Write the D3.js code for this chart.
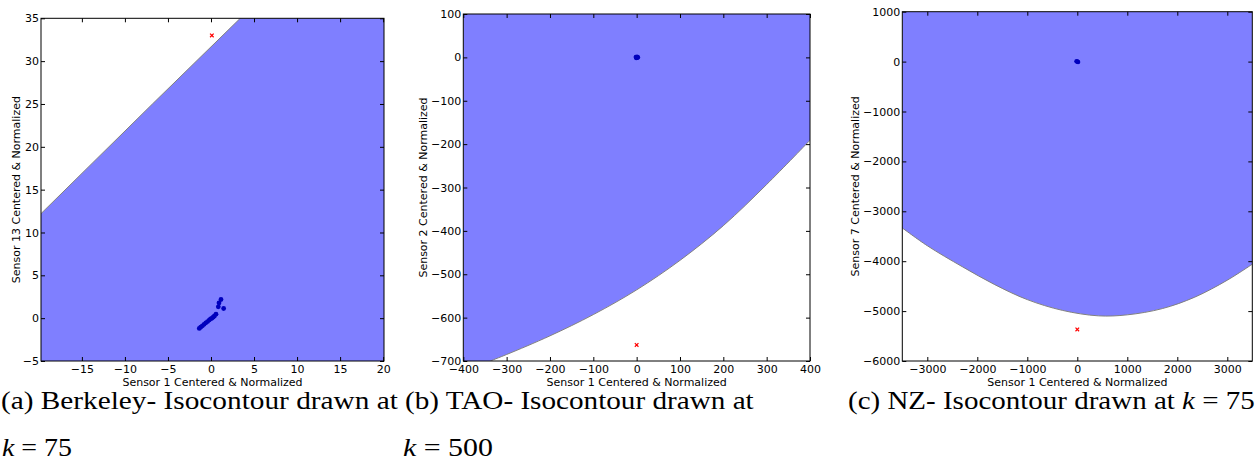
<!DOCTYPE html>
<html>
<head>
<meta charset="utf-8">
<script src="https://cdn.jsdelivr.net/npm/d3@7"></script>
<style>
  html, body { margin: 0; padding: 0; background: #fff; }
  svg { display: block; }
</style>
</head>
<body>
<svg id="chart" width="1257" height="461"></svg>
<script>
// ---------------- DATA ----------------
// Panel (a) Berkeley
const aXDomain = [-19.75, 20.1];
const aYDomain = [-5, 35];
const aXTicks = [-15, -10, -5, 0, 5, 10, 15, 20];
const aYTicks = [-5, 0, 5, 10, 15, 20, 25, 30, 35];
const aBoundary = [[-19.75, 12.2], [-6.8, 25.0], [3.4, 35]];
const aPoints = [[-1.36, -1.2], [-1.2, -1.05], [-1.0, -0.9], [-0.8, -0.72], [-0.6, -0.55],
                 [-0.4, -0.4], [-0.2, -0.22], [-0.05, -0.08], [0.1, -0.02], [0.25, 0.12],
                 [0.4, 0.25], [0.58, 0.47], [0.85, 1.32], [0.93, 1.78], [1.16, 2.18], [1.47, 1.13]];
const aOutlier = [[0.1, 33.0]];

// Panel (b) TAO
const bXDomain = [-400, 400];
const bYDomain = [-700, 100];
const bXTicks = [-400, -300, -200, -100, 0, 100, 200, 300, 400];
const bYTicks = [-700, -600, -500, -400, -300, -200, -100, 0, 100];
const bBoundary = [[-338, -700], [-300, -685], [-200, -642], [-100, -593], [0, -536],
                   [100, -468], [200, -388], [300, -293], [400, -191]];
const bPoints = [[0, 0], [-2, 1], [2, -1], [1, 1.5], [-1, -1.5], [3, 0.5]];
const bOutlier = [[0, -663]];

// Panel (c) NZ
const cXDomain = [-3500, 3500];
const cYDomain = [-6000, 1000];
const cXTicks = [-3000, -2000, -1000, 0, 1000, 2000, 3000];
const cYTicks = [-6000, -5000, -4000, -3000, -2000, -1000, 0, 1000];
const cBoundary = [[-3500, -3333], [-3000, -3690], [-2300, -4110], [-1650, -4470], [-1000, -4770],
                   [-300, -4985], [420, -5095], [1000, -5075], [1700, -4950], [2350, -4720],
                   [3000, -4380], [3500, -4060]];
const cPoints = [[0, 0], [15, -8], [-15, 8]];
const cOutlier = [[0, -5367]];

// Labels
const xLabels = ["Sensor 1 Centered & Normalized", "Sensor 1 Centered & Normalized", "Sensor 1 Centered & Normalized"];
const yLabels = ["Sensor 13 Centered & Normalized", "Sensor 2 Centered & Normalized", "Sensor 7 Centered & Normalized"];
const captionLines = [
  [["(a) Berkeley- Isocontour drawn at", false]],
  [["k", true], [" = 75", false]],
  [["(b) TAO- Isocontour drawn at", false]],
  [["k", true], [" = 500", false]],
  [["(c) NZ- Isocontour drawn at ", false], ["k", true], [" = 75", false]]
];

// ---------------- LAYOUT ----------------
const svg = d3.select("#chart");
const EDGE = "#808080";
const DOT = "#00007a";
const TICKFONT = "DejaVu Sans, sans-serif";

const panels = [
  { left: 41, top: 18.3, right: 384, bottom: 361, ylabX: 20,
    xd: aXDomain, yd: aYDomain, xt: aXTicks, yt: aYTicks,
    boundary: aBoundary, side: "below", pts: aPoints, out: aOutlier, r: 2.4, curve: d3.curveLinear },
  { left: 463.3, top: 14, right: 810, bottom: 361, ylabX: 427,
    xd: bXDomain, yd: bYDomain, xt: bXTicks, yt: bYTicks,
    boundary: bBoundary, side: "above", pts: bPoints, out: bOutlier, r: 2.2, curve: d3.curveCatmullRom },
  { left: 902.3, top: 11.7, right: 1252.3, bottom: 361, ylabX: 859,
    xd: cXDomain, yd: cYDomain, xt: cXTicks, yt: cYTicks,
    boundary: cBoundary, side: "above", pts: cPoints, out: cOutlier, r: 2.3, curve: d3.curveCatmullRom }
];

panels.forEach((p, i) => {
  const x = d3.scaleLinear().domain(p.xd).range([p.left, p.right]);
  const y = d3.scaleLinear().domain(p.yd).range([p.bottom, p.top]);
  const g = svg.append("g");

  const clipId = "clip" + i;
  svg.append("clipPath").attr("id", clipId).append("rect")
    .attr("x", p.left).attr("y", p.top)
    .attr("width", p.right - p.left).attr("height", p.bottom - p.top);

  // dots first (they sit under the translucent fill)
  g.append("g").attr("clip-path", `url(#${clipId})`)
    .selectAll("circle").data(p.pts).join("circle")
    .attr("cx", d => x(d[0])).attr("cy", d => y(d[1])).attr("r", p.r)
    .attr("fill", DOT);

  // filled isocontour region
  const line = d3.line().x(d => x(d[0])).y(d => y(d[1])).curve(p.curve);
  const bPath = line(p.boundary);
  const first = p.boundary[0];
  let closing;
  if (p.side === "below") {
    closing = [[p.xd[1], p.yd[1]], [p.xd[1], p.yd[0]], [p.xd[0], p.yd[0]], first];
  } else {
    closing = [[p.xd[1], p.yd[1]], [p.xd[0], p.yd[1]], [p.xd[0], p.yd[0]], first];
  }
  const closePath = closing.map(d => `L${x(d[0])},${y(d[1])}`).join("") + "Z";
  const cg = g.append("g").attr("clip-path", `url(#${clipId})`);
  cg.append("path").attr("d", bPath + closePath)
    .attr("fill", "#0000ff").attr("fill-opacity", 0.5).attr("stroke", "none");
  cg.append("path").attr("d", bPath)
    .attr("fill", "none").attr("stroke", EDGE).attr("stroke-width", 1);

  // red x markers
  const s = 1.8;
  g.selectAll("path.out").data(p.out).join("path").attr("class", "out")
    .attr("d", d => {
      const cx = x(d[0]), cy = y(d[1]);
      return `M${cx - s},${cy - s}L${cx + s},${cy + s}M${cx - s},${cy + s}L${cx + s},${cy - s}`;
    })
    .attr("stroke", "#ff0000").attr("stroke-width", 1.2).attr("fill", "none");

  // frame
  g.append("rect").attr("x", p.left).attr("y", p.top)
    .attr("width", p.right - p.left).attr("height", p.bottom - p.top)
    .attr("fill", "none").attr("stroke", "#000").attr("stroke-width", 1);

  const fmt = d3.format("d");
  const styleAxis = sel => {
    sel.select(".domain").remove();
    sel.selectAll(".tick line").attr("stroke", "#000").attr("stroke-width", 1);
    sel.selectAll("text").attr("font-family", TICKFONT).attr("font-size", 11).attr("fill", "#000");
  };
  g.append("g").attr("transform", `translate(0,${p.bottom})`)
    .call(d3.axisBottom(x).tickValues(p.xt).tickFormat(fmt).tickSize(-4).tickPadding(4))
    .call(styleAxis);
  g.append("g").attr("transform", `translate(0,${p.top})`)
    .call(d3.axisTop(x).tickValues(p.xt).tickFormat("").tickSize(-4))
    .call(styleAxis);
  g.append("g").attr("transform", `translate(${p.left},0)`)
    .call(d3.axisLeft(y).tickValues(p.yt).tickFormat(fmt).tickSize(-4).tickPadding(2))
    .call(styleAxis);
  g.append("g").attr("transform", `translate(${p.right},0)`)
    .call(d3.axisRight(y).tickValues(p.yt).tickFormat("").tickSize(-4))
    .call(styleAxis);

  // axis labels
  g.append("text").attr("x", (p.left + p.right) / 2).attr("y", 386)
    .attr("text-anchor", "middle").attr("font-family", TICKFONT).attr("font-size", 11)
    .text(xLabels[i]);
  g.append("text")
    .attr("transform", `translate(${p.ylabX},${(p.top + p.bottom) / 2}) rotate(-90)`)
    .attr("text-anchor", "middle").attr("font-family", TICKFONT).attr("font-size", 11)
    .text(yLabels[i]);
});

// ---------------- CAPTIONS ----------------
const capPos = [
  { x: 1, y: 409, w: 397 },
  { x: 2, y: 456, w: 70 },
  { x: 405, y: 409, w: 349 },
  { x: 403, y: 456, w: 90 },
  { x: 848, y: 409, w: 407 }
];
captionLines.forEach((parts, i) => {
  const pos = capPos[i];
  const t = svg.append("text")
    .attr("font-family", "Liberation Serif, Times New Roman, serif")
    .attr("font-size", 25).attr("fill", "#000")
    .attr("xml:space", "preserve").style("white-space", "pre");
  parts.forEach(([str, it]) => {
    t.append("tspan").attr("font-style", it ? "italic" : "normal").text(str);
  });
  const w = t.node().getComputedTextLength();
  const sx = pos.w / w;
  t.attr("transform", `translate(${pos.x},${pos.y}) scale(${sx},1)`);
});
</script>
</body>
</html>
